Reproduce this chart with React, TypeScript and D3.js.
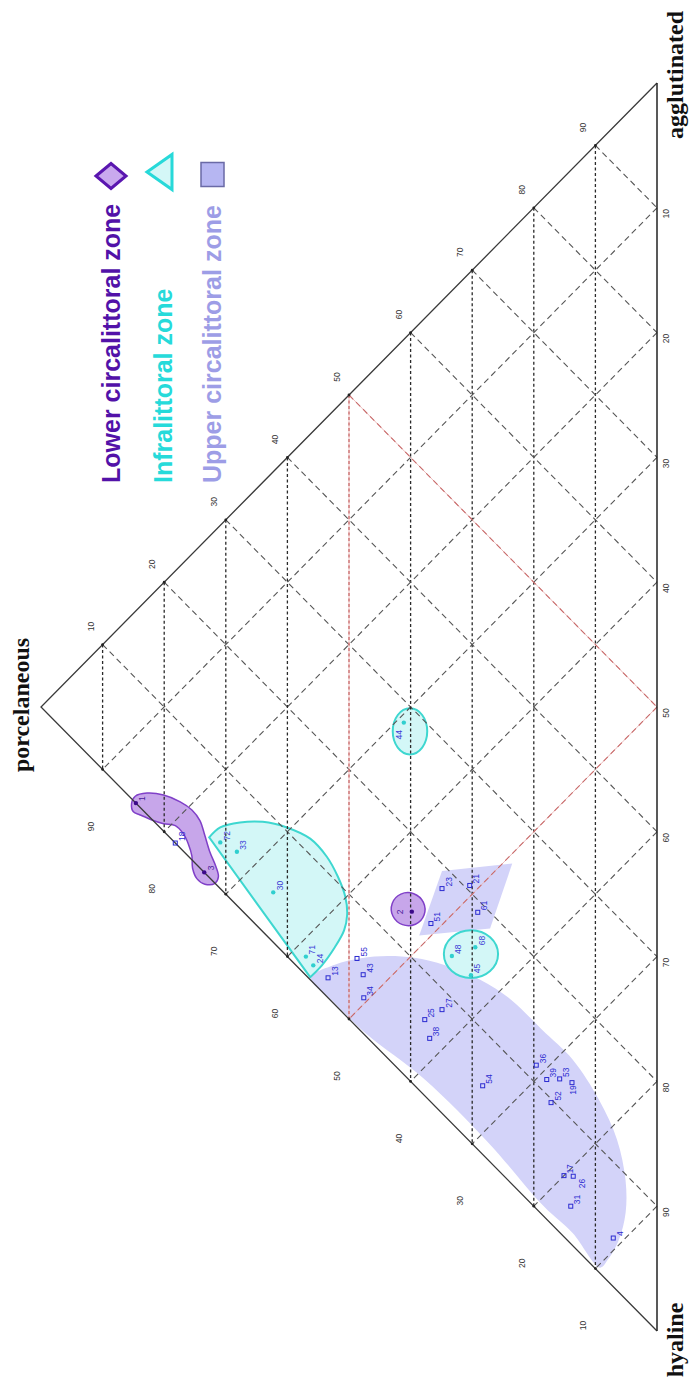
import React from "react";
import * as d3 from "d3";

const WIDTH = 690;
const HEIGHT = 1387;

// ---------- data (ternary percentages: porcelaneous %, hyaline %; agglutinated = remainder)
const tickValues = [10, 20, 30, 40, 50, 60, 70, 80, 90];

type Pt = [string, number, number];

const lowerCircalittoralPoints: Pt[] = [
  ["1", 84.6, 15.4],
  ["3", 73.5, 26.5],
  ["2", 39.8, 46.5],
];

const infralittoralPoints: Pt[] = [
  ["72", 70.9, 25.4],
  ["33", 68.2, 27.5],
  ["30", 62.3, 33.7],
  ["71", 57.0, 41.5],
  ["24", 55.8, 42.8],
  ["44", 41.1, 30.7],
  ["48", 33.3, 53.3],
  ["68", 29.5, 54.5],
  ["45", 30.2, 56.4],
];

const upperCircalittoralPoints: Pt[] = [
  ["18", 78.2, 21.8],
  ["13", 53.4, 45.0],
  ["55", 48.7, 45.8],
  ["43", 47.7, 47.6],
  ["34", 47.6, 49.5],
  ["23", 34.9, 47.1],
  ["21", 30.4, 49.1],
  ["51", 36.7, 49.0],
  ["61", 29.1, 51.9],
  ["25", 37.7, 56.2],
  ["27", 34.9, 56.8],
  ["38", 36.9, 58.1],
  ["54", 28.3, 66.2],
  ["36", 19.6, 68.9],
  ["39", 17.9, 70.9],
  ["53", 15.8, 71.9],
  ["19", 13.8, 73.2],
  ["52", 17.2, 73.1],
  ["17", 15.1, 80.0],
  ["26", 13.6, 80.8],
  ["31", 14.0, 83.0],
  ["4", 7.1, 89.0],
];

// zone outlines, [porcelaneous %, hyaline %]
const lowerHookOutline: [number, number][] = [
  [84.7, 14.8], [82.8, 15.5], [80.1, 17.0], [77.4, 18.9], [75.5, 20.5], [74.2, 22.0],
  [73.4, 23.6], [72.6, 25.3], [71.6, 27.0], [71.2, 28.0], [71.75, 28.25], [73.4, 27.5],
  [74.7, 26.4], [75.4, 25.2], [75.5, 24.2], [76.1, 22.9], [76.9, 21.7], [78.2, 20.4],
  [80.1, 19.3], [82.0, 18.05], [83.9, 16.7], [85.0, 15.9], [85.3, 15.1],
];
const lowerEllipse = { p: 40.4, h: 46.0, rp: 2.75, rh: 1.32 };

const infraFanOutline: [number, number][] = [
  [72.7, 24.1], [70.9, 24.2], [67.7, 25.4], [64.0, 27.2], [60.1, 29.6], [56.3, 32.4],
  [53.6, 35.2], [51.8, 37.7], [50.6, 39.9], [50.3, 41.5], [50.8, 42.5], [52.3, 43.1],
  [54.4, 43.5], [56.3, 43.5],
];
const infraEllipses = [
  { p: 40.1, h: 31.9, rp: 2.8, rh: 1.85 },
  { p: 30.2, h: 54.7, rp: 4.4, rh: 1.92 },
];

const upperQuadOutline: [number, number][] = [
  [34.9, 45.7], [23.5, 50.8], [27.1, 54.2], [38.6, 49.0],
];
const upperBlobOutline: [number, number][] = [
  [56.2, 43.6], [52.3, 44.5], [48.05, 46.1], [43.7, 48.1], [39.4, 50.4], [34.4, 53.5],
  [28.7, 57.5], [23.7, 61.6], [18.7, 66.5], [13.7, 71.4], [9.4, 76.8], [6.5, 81.4],
  [5.1, 85.4], [5.1, 88.0], [6.2, 89.6], [8.0, 90.3], [9.25, 90.3],
  [13.7, 85.3], [18.3, 80.9], [27.3, 71.3], [37.7, 61.0], [47.3, 52.5], [52.8, 47.1],
];

const legendLabels = ["Lower circalittoral zone", "Infralittoral zone", "Upper circalittoral zone"];
const titleAgglutinated = "agglutinated";
const titlePorcelaneous = "porcelaneous";
const titleHyaline = "hyaline";

// ---------- layout
const X_BASE = 657;
const X_APEX = 41;
const Y_TOP = 83;
const Y_APEX = 707;
const Y_BOTTOM = 1331;

const xOfP = d3.scaleLinear().domain([0, 100]).range([X_BASE, X_APEX]);
const dyOfP = d3.scaleLinear().domain([0, 100]).range([0, Y_APEX - Y_TOP]);
const dyOfH = d3.scaleLinear().domain([0, 100]).range([0, Y_BOTTOM - Y_TOP]);
const proj = (p: number, h: number): [number, number] => [xOfP(p), Y_TOP + dyOfP(p) + dyOfH(h)];

const labelOffsets: Record<string, [number, number]> = {
  "2": [-12, 2.5],
  "44": [-5, 17],
  "19": [1, 12],
  "26": [9, 12],
};

const C = {
  purpleFill: "#c7a6ea",
  purpleStroke: "#8040c8",
  purpleDot: "#3c0a8a",
  cyanFill: "#d3f7f7",
  cyanStroke: "#3ed7d0",
  cyanDot: "#30cfcf",
  lavender: "#d3d3f9",
  blue: "#2b2bd0",
  grid: "#3a3a3a",
  red: "#c86a6a",
};

const lineGen = d3.line<[number, number]>();

function ternaryPath(pts: [number, number][], curve: any, close = false) {
  const g = d3.line<[number, number]>().x((d) => proj(d[0], d[1])[0]).y((d) => proj(d[0], d[1])[1]).curve(curve);
  const s = g(pts) || "";
  return close ? s + "Z" : s;
}

function RotText(props: {
  x: number; y: number; text: string; size: number; fill: string; anchor?: string;
  family?: string; weight?: any; baseline?: string;
}) {
  const { x, y, text, size, fill, anchor = "middle", family = "'Liberation Sans', Arial, sans-serif", weight = "normal", baseline = "central" } = props;
  return (
    <text
      transform={`translate(${x},${y}) rotate(-90)`}
      fontSize={size}
      fill={fill}
      textAnchor={anchor as any}
      dominantBaseline={baseline as any}
      fontFamily={family}
      fontWeight={weight}
    >
      {text}
    </text>
  );
}

function Ellipse(props: { e: { p: number; h: number; rp: number; rh: number }; fill: string; stroke: string; sw: number; rot?: number }) {
  const { e, fill, stroke, sw, rot = 0 } = props;
  const [cx, cy] = proj(e.p, e.h);
  const rx = xOfP(0) - xOfP(e.rp);
  const ry = dyOfH(e.rh) - dyOfH(0);
  return <ellipse cx={cx} cy={cy} rx={rx} ry={ry} fill={fill} stroke={stroke} strokeWidth={sw} transform={`rotate(${rot},${cx},${cy})`} />;
}

export default function App() {
  const apex = proj(100, 0);
  const top = proj(0, 0);
  const bottom = proj(0, 100);

  const gridLines: { a: [number, number]; b: [number, number]; kind: string; k: number }[] = [];
  tickValues.forEach((k) => {
    gridLines.push({ a: proj(k, 0), b: proj(k, 100 - k), kind: "p", k });
    gridLines.push({ a: proj(100 - k, 0), b: proj(0, 100 - k), kind: "a", k });
    gridLines.push({ a: proj(0, k), b: proj(100 - k, k), kind: "h", k });
  });

  const serif = "'Liberation Serif', 'Times New Roman', serif";
  const sans = "'Liberation Sans', Arial, sans-serif";

  const renderPointLabel = (d: Pt, color: string) => {
    const [x, y] = proj(d[1], d[2]);
    const off = labelOffsets[d[0]] || [6.5, -2];
    return (
      <RotText key={"l" + d[0]} x={x + off[0]} y={y + off[1]} text={d[0]} size={8.5} fill={color} anchor="start" />
    );
  };

  return (
    <svg
      width={WIDTH}
      height={HEIGHT}
      viewBox={`0 0 ${WIDTH} ${HEIGHT}`}
      style={{ position: "absolute", left: 0, top: 0, display: "block", background: "#fff" }}
    >
      <rect x={0} y={0} width={WIDTH} height={HEIGHT} fill="#fff" />

      {/* zones */}
      <path d={ternaryPath(upperBlobOutline, d3.curveCatmullRomClosed.alpha(0.5))} fill={C.lavender} />
      <path d={ternaryPath(upperQuadOutline, d3.curveLinearClosed)} fill={C.lavender} />
      <path d={ternaryPath(infraFanOutline, d3.curveCatmullRom.alpha(0.5), true)} fill={C.cyanFill} stroke={C.cyanStroke} strokeWidth={2} />
      {infraEllipses.map((e, i) => (
        <Ellipse key={"ie" + i} e={e} fill={C.cyanFill} stroke={C.cyanStroke} sw={2} />
      ))}
      <path d={ternaryPath(lowerHookOutline, d3.curveCatmullRomClosed.alpha(0.5))} fill={C.purpleFill} stroke={C.purpleStroke} strokeWidth={1.5} />
      <Ellipse e={lowerEllipse} fill={C.purpleFill} stroke={C.purpleStroke} sw={1.5} rot={20} />

      {/* grid */}
      {gridLines.map((g, i) => {
        const isRed = g.k === 50;
        const isVert = g.kind === "p";
        return (
          <g key={"g" + i}>
            {isRed && <path d={lineGen([g.a, g.b]) || ""} stroke="#eab4b4" strokeWidth={0.9} fill="none" />}
            <path
              d={lineGen([g.a, g.b]) || ""}
              stroke={isRed ? C.red : isVert ? "#2a2a2a" : "#555"}
              strokeWidth={isVert ? 1.3 : 1.1}
              strokeDasharray={isVert ? "3,2.5" : "6,4"}
              fill="none"
            />
          </g>
        );
      })}

      {/* edges */}
      <path d={lineGen([top, apex, bottom]) || ""} stroke="#3a3a3a" strokeWidth={1.3} fill="none" />
      <path d={lineGen([top, bottom]) || ""} stroke="#222" strokeWidth={1.5} fill="none" />
      {tickValues.map((k) => {
        const [x1, y1] = proj(k, 100 - k);
        const [x2, y2] = proj(k, 0);
        return (
          <g key={"td" + k}>
            <circle cx={x1} cy={y1} r={1.4} fill="#222" />
            <circle cx={x2} cy={y2} r={1.4} fill="#222" />
          </g>
        );
      })}

      {/* tick labels */}
      {tickValues.map((k) => {
        const [bx, by] = proj(0, k);
        const [tx, ty] = proj(100 - k, 0);
        const [lx, ly] = proj(k, 100 - k);
        return (
          <g key={"tl" + k}>
            <RotText x={bx + 9} y={by + 6} text={String(k)} size={8.5} fill="#333" />
            <RotText x={tx - 12} y={ty - 18} text={String(k)} size={8.5} fill="#333" />
            <RotText x={lx - 12} y={ly + 57} text={String(k)} size={8.5} fill="#333" />
          </g>
        );
      })}

      {/* points */}
      {upperCircalittoralPoints.map((d) => {
        const [x, y] = proj(d[1], d[2]);
        return <rect key={"u" + d[0]} x={x - 2} y={y - 2} width={4} height={4} fill="none" stroke={C.blue} strokeWidth={1} />;
      })}
      {infralittoralPoints.map((d) => {
        const [x, y] = proj(d[1], d[2]);
        return <circle key={"i" + d[0]} cx={x} cy={y} r={2.2} fill={C.cyanDot} />;
      })}
      {lowerCircalittoralPoints.map((d) => {
        const [x, y] = proj(d[1], d[2]);
        return <circle key={"lo" + d[0]} cx={x} cy={y} r={2.2} fill={C.purpleDot} />;
      })}
      {upperCircalittoralPoints.map((d) => renderPointLabel(d, C.blue))}
      {infralittoralPoints.map((d) => renderPointLabel(d, "#3a3ad6"))}
      {lowerCircalittoralPoints.map((d) => renderPointLabel(d, "#4a1a9a"))}

      {/* axis titles */}
      <RotText x={683} y={75} text={titleAgglutinated} size={24} fill="#111" family={serif} weight="bold" baseline="alphabetic" />
      <RotText x={28.5} y={705} text={titlePorcelaneous} size={24} fill="#111" family={serif} weight="bold" baseline="alphabetic" />
      <RotText x={683} y={1340} text={titleHyaline} size={24} fill="#111" family={serif} weight="bold" baseline="alphabetic" />

      {/* legend */}
      <RotText x={120} y={483} text={legendLabels[0]} size={25} fill="#5212a8" family={sans} weight="bold" anchor="start" baseline="alphabetic" />
      <RotText x={172} y={483} text={legendLabels[1]} size={25} fill="#26dada" family={sans} weight="bold" anchor="start" baseline="alphabetic" />
      <RotText x={221} y={483} text={legendLabels[2]} size={25} fill="#9d9de6" family={sans} weight="bold" anchor="start" baseline="alphabetic" />
      <polygon points="96,176 111,163.5 126,176 111,188.5" fill="#c9a9ee" stroke="#5a16b0" strokeWidth={3} strokeLinejoin="miter" />
      <polygon points="147,172 172,154.5 172,189.5" fill="#d4f7f7" stroke="#27d9d9" strokeWidth={3} />
      <rect x={201} y={162.5} width={23} height={24} fill="#b6b6f2" stroke="#6a6aa6" strokeWidth={1.5} />
    </svg>
  );
}
